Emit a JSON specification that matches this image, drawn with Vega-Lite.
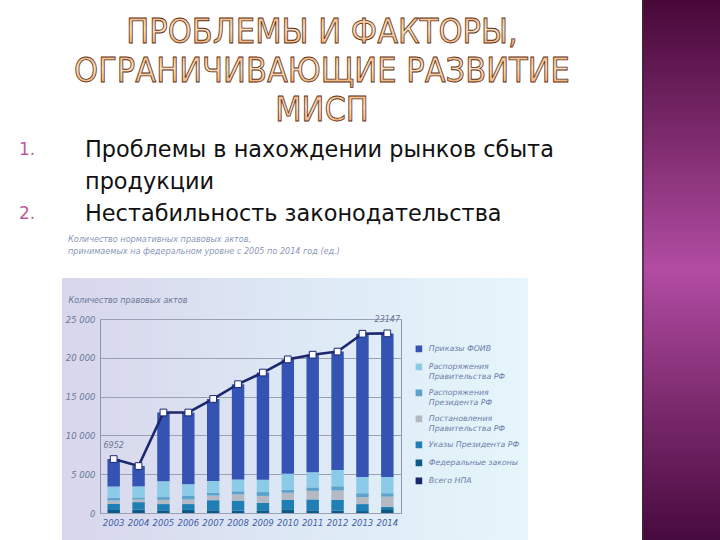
{
  "$schema": "https://vega.github.io/schema/vega-lite/v6.json",
  "background": "white",
  "padding": 0,
  "spacing": 0,
  "bounds": "flush",
  "config": {"view": {"stroke": null}, "font": "DejaVu Sans"},
  "datasets": {
    "npa": [
      {"year": 2003, "type": "Федеральные законы", "k": 1, "value": 400},
      {"year": 2003, "type": "Указы Президента РФ", "k": 2, "value": 750},
      {"year": 2003, "type": "Постановления Правительства РФ", "k": 3, "value": 450},
      {"year": 2003, "type": "Распоряжения Президента РФ", "k": 4, "value": 350},
      {"year": 2003, "type": "Распоряжения Правительства РФ", "k": 5, "value": 1480},
      {"year": 2003, "type": "Приказы ФОИВ", "k": 6, "value": 3522},
      {"year": 2004, "type": "Федеральные законы", "k": 1, "value": 450},
      {"year": 2004, "type": "Указы Президента РФ", "k": 2, "value": 950},
      {"year": 2004, "type": "Постановления Правительства РФ", "k": 3, "value": 350},
      {"year": 2004, "type": "Распоряжения Президента РФ", "k": 4, "value": 250},
      {"year": 2004, "type": "Распоряжения Правительства РФ", "k": 5, "value": 1430},
      {"year": 2004, "type": "Приказы ФОИВ", "k": 6, "value": 2620},
      {"year": 2005, "type": "Федеральные законы", "k": 1, "value": 350},
      {"year": 2005, "type": "Указы Президента РФ", "k": 2, "value": 800},
      {"year": 2005, "type": "Постановления Правительства РФ", "k": 3, "value": 550},
      {"year": 2005, "type": "Распоряжения Президента РФ", "k": 4, "value": 350},
      {"year": 2005, "type": "Распоряжения Правительства РФ", "k": 5, "value": 2030},
      {"year": 2005, "type": "Приказы ФОИВ", "k": 6, "value": 8870},
      {"year": 2006, "type": "Федеральные законы", "k": 1, "value": 400},
      {"year": 2006, "type": "Указы Президента РФ", "k": 2, "value": 750},
      {"year": 2006, "type": "Постановления Правительства РФ", "k": 3, "value": 600},
      {"year": 2006, "type": "Распоряжения Президента РФ", "k": 4, "value": 500},
      {"year": 2006, "type": "Распоряжения Правительства РФ", "k": 5, "value": 1450},
      {"year": 2006, "type": "Приказы ФОИВ", "k": 6, "value": 9250},
      {"year": 2007, "type": "Федеральные законы", "k": 1, "value": 350},
      {"year": 2007, "type": "Указы Президента РФ", "k": 2, "value": 1300},
      {"year": 2007, "type": "Постановления Правительства РФ", "k": 3, "value": 600},
      {"year": 2007, "type": "Распоряжения Президента РФ", "k": 4, "value": 350},
      {"year": 2007, "type": "Распоряжения Правительства РФ", "k": 5, "value": 1520},
      {"year": 2007, "type": "Приказы ФОИВ", "k": 6, "value": 10580},
      {"year": 2008, "type": "Федеральные законы", "k": 1, "value": 300},
      {"year": 2008, "type": "Указы Президента РФ", "k": 2, "value": 1300},
      {"year": 2008, "type": "Постановления Правительства РФ", "k": 3, "value": 800},
      {"year": 2008, "type": "Распоряжения Президента РФ", "k": 4, "value": 400},
      {"year": 2008, "type": "Распоряжения Правительства РФ", "k": 5, "value": 1530},
      {"year": 2008, "type": "Приказы ФОИВ", "k": 6, "value": 12270},
      {"year": 2009, "type": "Федеральные законы", "k": 1, "value": 350},
      {"year": 2009, "type": "Указы Президента РФ", "k": 2, "value": 950},
      {"year": 2009, "type": "Постановления Правительства РФ", "k": 3, "value": 900},
      {"year": 2009, "type": "Распоряжения Президента РФ", "k": 4, "value": 500},
      {"year": 2009, "type": "Распоряжения Правительства РФ", "k": 5, "value": 1600},
      {"year": 2009, "type": "Приказы ФОИВ", "k": 6, "value": 13800},
      {"year": 2010, "type": "Федеральные законы", "k": 1, "value": 400},
      {"year": 2010, "type": "Указы Президента РФ", "k": 2, "value": 1300},
      {"year": 2010, "type": "Постановления Правительства РФ", "k": 3, "value": 900},
      {"year": 2010, "type": "Распоряжения Президента РФ", "k": 4, "value": 400},
      {"year": 2010, "type": "Распоряжения Правительства РФ", "k": 5, "value": 2050},
      {"year": 2010, "type": "Приказы ФОИВ", "k": 6, "value": 14750},
      {"year": 2011, "type": "Федеральные законы", "k": 1, "value": 350},
      {"year": 2011, "type": "Указы Президента РФ", "k": 2, "value": 1400},
      {"year": 2011, "type": "Постановления Правительства РФ", "k": 3, "value": 1100},
      {"year": 2011, "type": "Распоряжения Президента РФ", "k": 4, "value": 450},
      {"year": 2011, "type": "Распоряжения Правительства РФ", "k": 5, "value": 1950},
      {"year": 2011, "type": "Приказы ФОИВ", "k": 6, "value": 15150},
      {"year": 2012, "type": "Федеральные законы", "k": 1, "value": 300},
      {"year": 2012, "type": "Указы Президента РФ", "k": 2, "value": 1400},
      {"year": 2012, "type": "Постановления Правительства РФ", "k": 3, "value": 1200},
      {"year": 2012, "type": "Распоряжения Президента РФ", "k": 4, "value": 550},
      {"year": 2012, "type": "Распоряжения Правительства РФ", "k": 5, "value": 2100},
      {"year": 2012, "type": "Приказы ФОИВ", "k": 6, "value": 15250},
      {"year": 2013, "type": "Федеральные законы", "k": 1, "value": 250},
      {"year": 2013, "type": "Указы Президента РФ", "k": 2, "value": 900},
      {"year": 2013, "type": "Постановления Правительства РФ", "k": 3, "value": 900},
      {"year": 2013, "type": "Распоряжения Президента РФ", "k": 4, "value": 500},
      {"year": 2013, "type": "Распоряжения Правительства РФ", "k": 5, "value": 2100},
      {"year": 2013, "type": "Приказы ФОИВ", "k": 6, "value": 18450},
      {"year": 2014, "type": "Федеральные законы", "k": 1, "value": 500},
      {"year": 2014, "type": "Указы Президента РФ", "k": 2, "value": 300},
      {"year": 2014, "type": "Постановления Правительства РФ", "k": 3, "value": 1300},
      {"year": 2014, "type": "Распоряжения Президента РФ", "k": 4, "value": 450},
      {"year": 2014, "type": "Распоряжения Правительства РФ", "k": 5, "value": 2100},
      {"year": 2014, "type": "Приказы ФОИВ", "k": 6, "value": 18497}
    ],
    "total": [
      {"year": 2003, "value": 6952},
      {"year": 2004, "value": 6050},
      {"year": 2005, "value": 12950},
      {"year": 2006, "value": 12950},
      {"year": 2007, "value": 14700},
      {"year": 2008, "value": 16600},
      {"year": 2009, "value": 18100},
      {"year": 2010, "value": 19800},
      {"year": 2011, "value": 20400},
      {"year": 2012, "value": 20800},
      {"year": 2013, "value": 23100},
      {"year": 2014, "value": 23147}
    ]
  },
  "vconcat": [
    {
      "width": 720,
      "height": 319,
      "layer": [
        {
          "data": {"values": [{}]},
          "mark": {
            "type": "rect", "x": 642, "x2": 720, "y": 0, "y2": 540,
            "color": {"gradient": "linear", "x1": 0, "y1": 0, "x2": 0, "y2": 1, "stops": [
              {"offset": 0, "color": "#470838"},
              {"offset": 0.25, "color": "#7c2a6c"},
              {"offset": 0.5, "color": "#b14ca2"},
              {"offset": 0.75, "color": "#7c2a6e"},
              {"offset": 1, "color": "#470a3e"}
            ]}
          },
          "encoding": {}
        },
        {
          "data": {"values": [{}]},
          "mark": {"type": "rect", "x": 642, "x2": 644, "y": 0, "y2": 540, "color": "#3d2438", "opacity": 0.7},
          "encoding": {}
        },
        {
          "data": {"values": [
            {"line": 1, "text": "ПРОБЛЕМЫ И ФАКТОРЫ,"},
            {"line": 2, "text": "ОГРАНИЧИВАЮЩИЕ РАЗВИТИЕ"},
            {"line": 3, "text": "МИСП"}
          ]},
          "mark": {
            "type": "text", "x": 322, "align": "center", "baseline": "middle",
            "font": "DejaVu Sans Condensed, DejaVu Sans", "fontSize": 34,
            "fill": {"gradient": "linear", "x1": 0, "y1": 0, "x2": 0, "y2": 1, "stops": [
              {"offset": 0, "color": "#f1a564"},
              {"offset": 0.45, "color": "#fce2c4"},
              {"offset": 1, "color": "#ec9c58"}
            ]},
            "stroke": "#5c2f12", "strokeWidth": 0.8
          },
          "encoding": {
            "y": {"field": "line", "type": "ordinal", "scale": {"range": [33, 111], "padding": 0}, "axis": null},
            "text": {"field": "text"}
          }
        },
        {
          "data": {"values": [
            {"line": 1, "num": "1.", "text": "Проблемы в нахождении рынков сбыта"},
            {"line": 2, "num": "", "text": "продукции"},
            {"line": 3, "num": "2.", "text": "Нестабильность законодательства"}
          ]},
          "encoding": {
            "y": {"field": "line", "type": "ordinal", "scale": {"range": [150, 214], "padding": 0}, "axis": null}
          },
          "layer": [
            {"mark": {"type": "text", "align": "left", "baseline": "middle", "x": 85, "fontSize": 22.4, "color": "#111111"}, "encoding": {"text": {"field": "text"}}},
            {"mark": {"type": "text", "align": "left", "baseline": "middle", "x": 19, "fontSize": 17, "color": "#bb5c96"}, "encoding": {"text": {"field": "num"}}}
          ]
        },
        {
          "data": {"values": [
            {"line": 1, "text": "Количество нормативных правовых актов,"},
            {"line": 2, "text": "принимаемых на федеральном уровне с 2005 по 2014 год (ед.)"}
          ]},
          "mark": {"type": "text", "align": "left", "baseline": "middle", "x": 68, "fontSize": 8.1, "fontStyle": "italic", "color": "#8a98b8"},
          "encoding": {
            "y": {"field": "line", "type": "ordinal", "scale": {"range": [240, 252], "padding": 0}, "axis": null},
            "text": {"field": "text"}
          }
        }
      ],
      "resolve": {"scale": {"y": "independent"}}
    },
    {
      "spacing": 0,
      "bounds": "flush",
      "hconcat": [
        {
          "width": 100,
          "height": 194,
          "data": {"values": [{}]},
          "mark": {
            "type": "rect", "x": 62, "x2": 528, "y": -41, "y2": 221,
            "color": {"gradient": "linear", "x1": 0, "y1": 0, "x2": 1, "y2": 0, "stops": [
              {"offset": 0, "color": "#d8d6eb"},
              {"offset": 0.5, "color": "#dde8f5"},
              {"offset": 1, "color": "#e6f6fb"}
            ]}
          },
          "encoding": {}
        },
        {
          "width": 301,
          "height": 194,
          "view": {"stroke": "#8e96ad", "strokeWidth": 1},
          "encoding": {
            "x": {
              "field": "year", "type": "ordinal",
              "scale": {"paddingInner": 0.5, "paddingOuter": 0.3},
              "axis": {"title": null, "labelAngle": 0, "ticks": false, "domain": false, "labelFontStyle": "italic", "labelColor": "#3f5ea8", "labelFontSize": 8.5, "labelPadding": 5}
            },
            "y": {
              "field": "value", "type": "quantitative", "stack": "zero",
              "scale": {"domain": [0, 25000], "nice": false},
              "axis": {
                "title": "Количество правовых актов", "titleAngle": 0, "titleAlign": "left", "titleBaseline": "middle",
                "titleX": -32, "titleY": -19, "titleFontSize": 8, "titleFontStyle": "italic", "titleFontWeight": "normal", "titleColor": "#6a7898",
                "values": [0, 5000, 10000, 15000, 20000, 25000], "labelOverlap": false,
                "labelExpr": "replace(format(datum.value, ','), ',', ' ')",
                "labelFontStyle": "italic", "labelFontSize": 8.5, "labelColor": "#6a7898",
                "ticks": false, "domain": false, "gridColor": "#9aa1b4", "labelPadding": 5
              }
            }
          },
          "layer": [
            {
              "data": {"name": "npa"},
              "mark": {"type": "bar"},
              "encoding": {
                "order": {"field": "k", "type": "quantitative"},
                "color": {
                  "field": "type", "type": "nominal",
                  "scale": {
                    "domain": ["Приказы ФОИВ", "Распоряжения Правительства РФ", "Распоряжения Президента РФ", "Постановления Правительства РФ", "Указы Президента РФ", "Федеральные законы", "Всего НПА"],
                    "range": ["#3553b3", "#8ccbe8", "#5ba3cc", "#b4b9c4", "#1f7fb5", "#0c5a88", "#1b2870"]
                  },
                  "legend": {
                    "title": null, "orient": "none", "legendX": 415, "legendY": 345,
                    "symbolType": "square", "symbolSize": 26, "labelFontSize": 7.8, "labelFontStyle": "italic", "labelColor": "#6a7ca8",
                    "rowPadding": 6, "labelOffset": 6, "labelLineHeight": 10,
                    "labelExpr": "length(datum.label) > 20 ? [slice(datum.label, 0, indexof(datum.label, ' ')), slice(datum.label, indexof(datum.label, ' ') + 1)] : datum.label"
                  }
                }
              }
            },
            {
              "data": {"name": "total"},
              "mark": {"type": "line", "strokeWidth": 2.6},
              "encoding": {
                "color": {"datum": "Всего НПА"}
              }
            },
            {
              "data": {"name": "total"},
              "mark": {"type": "point", "shape": "square", "filled": true, "fill": "white", "stroke": "#1b2870", "strokeWidth": 1, "size": 45, "opacity": 1},
              "encoding": {}
            },
            {
              "data": {"name": "total"},
              "transform": [{"filter": {"field": "year", "oneOf": [2003, 2014]}}],
              "mark": {"type": "text", "dy": -13, "fontSize": 8, "fontStyle": "italic", "color": "#6a7898"},
              "encoding": {
                "text": {"field": "value", "type": "quantitative", "format": "d"}
              }
            }
          ]
        }
      ]
    }
  ]
}
